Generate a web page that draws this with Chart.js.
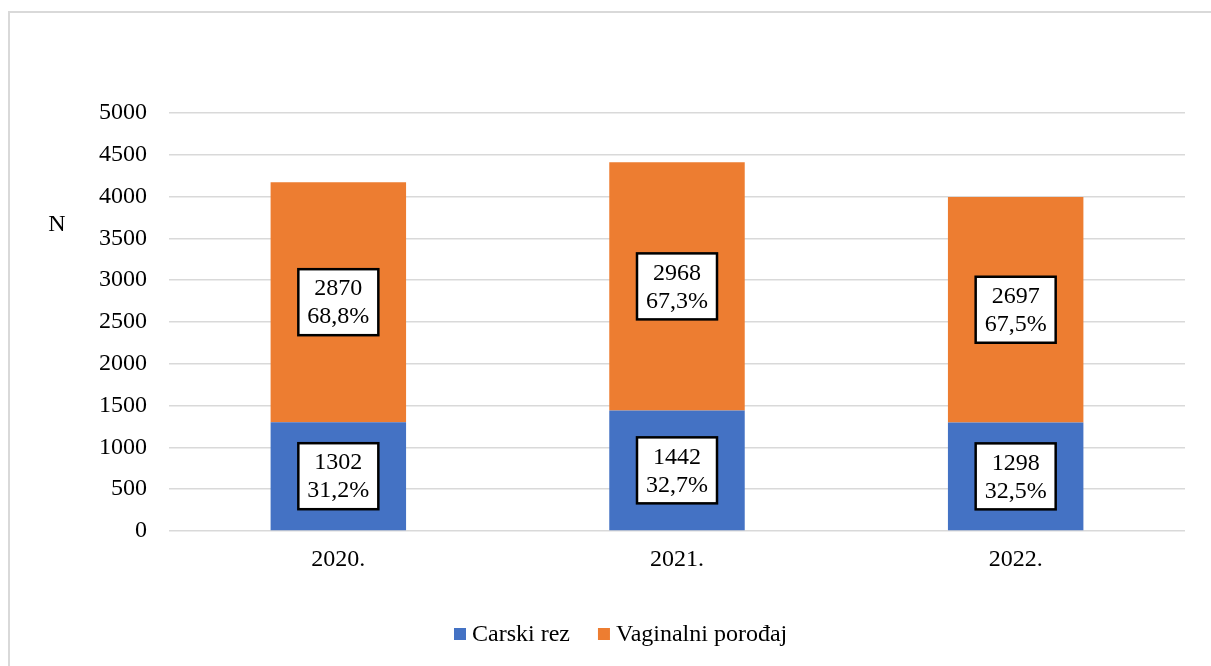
<!DOCTYPE html>
<html>
<head>
<meta charset="utf-8">
<script src="https://cdn.jsdelivr.net/npm/chart.js@4.4.1/dist/chart.umd.min.js"></script>
<style>
    html, body { margin: 0; padding: 0; background: #fff; overflow: hidden; }
    #frame {
        position: absolute; left: 8px; top: 11px;
        width: 1240px; height: 700px;
        border: 2px solid #d9d9d9;
    }
    #wrap { position: absolute; left: 0; top: 0; width: 1211px; height: 666px; }
</style>
</head>
<body>
<div id="frame"></div>
<div id="wrap"><canvas id="chart"></canvas></div>
<script>
const years = ['2020.', '2021.', '2022.']
const carskiRez = [1302, 1442, 1298]
const vaginalni = [2870, 2968, 2697]
const carskiPct = ['31,2%', '32,7%', '32,5%']
const vaginalniPct = ['68,8%', '67,3%', '67,5%']
const yTicksMax = 5000
const yStep = 500

const serif = '"Liberation Serif", "Times New Roman", serif'
Chart.defaults.font.family = serif
Chart.defaults.font.size = 24
Chart.defaults.color = '#000'

// boxed value + percent inside each bar segment
const boxLabels = {
    id: 'boxLabels',
    afterDatasetsDraw(chart) {
        const ctx = chart.ctx
        const pcts = [carskiPct, vaginalniPct]
        chart.data.datasets.forEach((ds, di) => {
            const meta = chart.getDatasetMeta(di)
            meta.data.forEach((bar, i) => {
                const cx = bar.x
                const cy = (bar.y + bar.base) / 2
                const w = 80, h = 66
                ctx.save()
                ctx.fillStyle = '#fff'
                ctx.fillRect(cx - w / 2, cy - h / 2, w, h)
                ctx.lineWidth = 2.5
                ctx.strokeStyle = '#000'
                ctx.strokeRect(cx - w / 2, cy - h / 2, w, h)
                ctx.fillStyle = '#000'
                ctx.font = '24px ' + serif
                ctx.textAlign = 'center'
                ctx.textBaseline = 'middle'
                ctx.fillText(String(ds.data[i]), cx, cy - 13)
                ctx.fillText(pcts[di][i], cx, cy + 15)
                ctx.restore()
            })
        })
    }
}

// "N" label and the legend, Excel style
const extras = {
    id: 'extras',
    afterDraw(chart) {
        const ctx = chart.ctx
        ctx.save()
        ctx.fillStyle = '#000'
        ctx.font = '24px ' + serif
        ctx.textAlign = 'center'
        ctx.textBaseline = 'middle'
        ctx.fillText('N', 57, chart.chartArea.top + 112)

        ctx.textAlign = 'left'
        let x = 454
        const y = 634
        chart.data.datasets.forEach(ds => {
            ctx.fillStyle = ds.backgroundColor
            ctx.fillRect(x, y - 6, 12, 12)
            ctx.fillStyle = '#000'
            ctx.fillText(ds.label, x + 18, y + 1)
            x += 18 + ctx.measureText(ds.label).width + 28
        })
        ctx.restore()
    }
}

new Chart(document.getElementById('chart'), {
    type: 'bar',
    data: {
        labels: years,
        datasets: [{
            label: 'Carski rez',
            data: carskiRez,
            backgroundColor: '#4472c4',
            categoryPercentage: 1,
            barPercentage: 0.4,
        }, {
            label: 'Vaginalni porođaj',
            data: vaginalni,
            backgroundColor: '#ed7d31',
            categoryPercentage: 1,
            barPercentage: 0.4,
        }]
    },
    options: {
        responsive: true,
        maintainAspectRatio: false,
        animation: false,
        layout: { padding: { left: 0, right: 26, top: 113, bottom: 0 } },
        scales: {
            x: {
                stacked: true,
                grid: { display: false },
                border: { display: false },
                ticks: { padding: 6 },
                afterFit(scale) { scale.height = 135 }
            },
            y: {
                stacked: true,
                min: 0,
                max: yTicksMax,
                ticks: { stepSize: yStep, padding: 22, callback: v => String(v) },
                grid: { color: '#d9d9d9', lineWidth: 1.5, drawTicks: false },
                border: { display: false },
                afterFit(scale) { scale.width = 169 }
            }
        },
        plugins: {
            legend: { display: false },
            tooltip: { enabled: false }
        }
    },
    plugins: [boxLabels, extras]
})
</script>
</body>
</html>
